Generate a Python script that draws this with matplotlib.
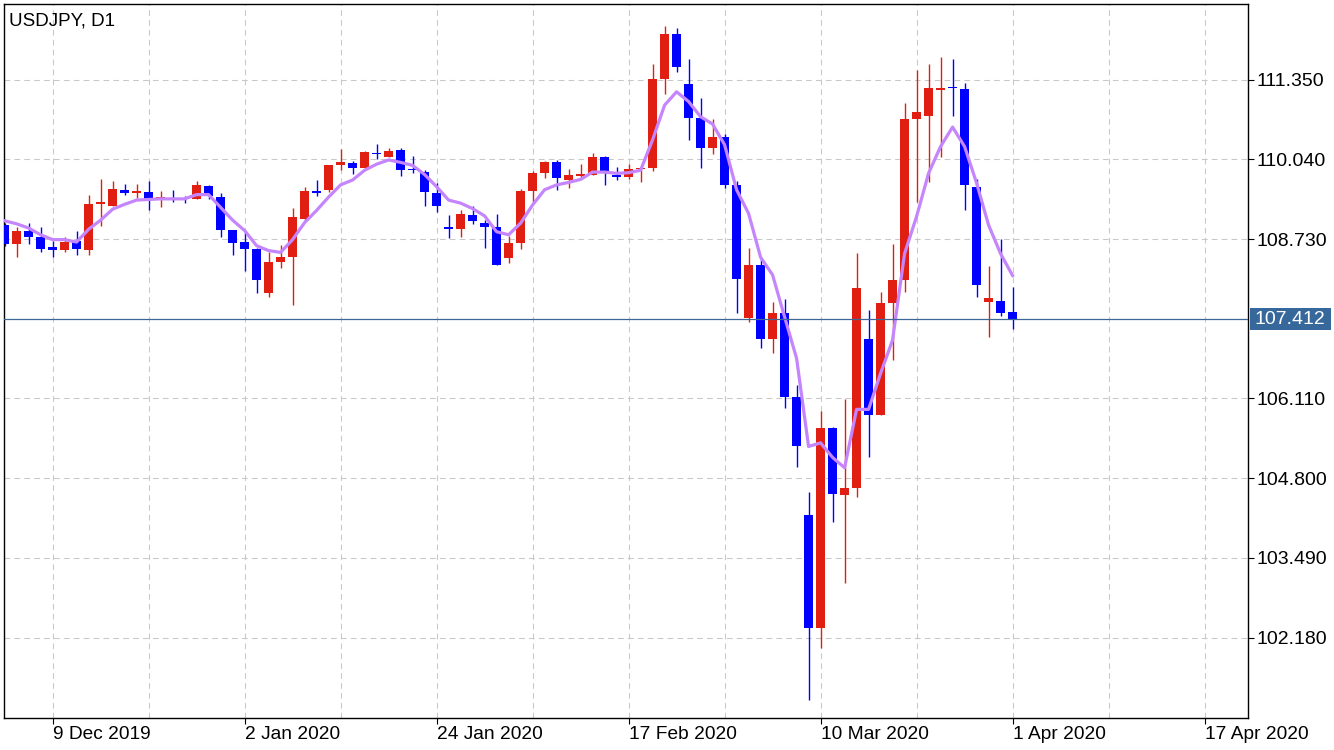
import numpy as np
import matplotlib.pyplot as plt
from matplotlib.patches import Rectangle

plt.rcParams['font.family'] = ['Liberation Sans', 'DejaVu Sans']

# barras diarias USDJPY, do indice -84 ate 0 (0 = 1 Apr 2020)
bar_idx = np.arange(-84, 1)

opens = [108.96, 108.64, 108.86, 108.76, 108.60, 108.55, 108.69, 108.55, 109.31, 109.28,
         109.54, 109.49, 109.50, 109.40, 109.41, 109.40, 109.39, 109.60, 109.42, 108.88,
         108.68, 108.57, 107.85, 108.36, 108.44, 109.06, 109.52, 109.54, 109.95, 109.98,
         109.90, 110.14, 110.08, 110.19, 109.87, 109.83, 109.49, 108.91, 108.90, 109.13,
         109.00, 108.92, 108.42, 108.67, 109.52, 109.82, 110.00, 109.70, 109.77, 109.78,
         110.08, 109.78, 109.75, 109.88, 109.89, 111.36, 112.10, 111.28, 110.72, 110.22,
         110.41, 109.61, 107.44, 108.30, 107.08, 107.51, 106.14, 104.19, 102.34, 105.62,
         104.53, 104.63, 107.08, 105.84, 107.68, 108.06, 110.70, 110.75, 111.18, 111.23,
         111.20, 109.58, 107.70, 107.71, 107.53]
highs = [108.99, 108.92, 108.99, 108.93, 108.69, 108.76, 108.86, 109.45, 109.71, 109.68,
         109.64, 109.64, 109.69, 109.52, 109.54, 109.44, 109.68, 109.61, 109.49, 108.88,
         108.85, 108.58, 108.51, 108.63, 109.24, 109.59, 109.70, 109.95, 110.21, 110.01,
         110.18, 110.29, 110.23, 110.23, 110.09, 109.86, 109.65, 109.13, 109.21, 109.27,
         109.05, 109.14, 108.78, 109.55, 109.85, 110.01, 110.03, 109.88, 109.96, 110.14,
         110.10, 109.91, 109.96, 109.91, 111.61, 112.23, 112.20, 111.69, 111.05, 110.70,
         110.46, 109.69, 108.58, 108.40, 107.69, 107.74, 106.33, 104.57, 105.90, 105.64,
         106.10, 108.50, 107.56, 107.86, 108.65, 110.97, 111.51, 111.61, 111.72, 111.69,
         111.29, 109.72, 108.29, 108.73, 107.94]
lows = [108.62, 108.44, 108.65, 108.52, 108.44, 108.52, 108.47, 108.46, 108.95, 109.27,
        109.46, 109.40, 109.20, 109.26, 109.34, 109.33, 109.38, 109.39, 108.77, 108.47,
        108.21, 107.85, 107.77, 108.26, 107.65, 109.02, 109.44, 109.50, 109.86, 109.80,
        109.90, 110.05, 110.08, 109.77, 109.82, 109.28, 109.17, 108.74, 108.76, 108.98,
        108.59, 108.30, 108.33, 108.56, 109.34, 109.74, 109.54, 109.57, 109.72, 109.78,
        109.62, 109.70, 109.72, 109.67, 109.85, 111.12, 111.48, 110.35, 109.90, 110.13,
        109.57, 107.52, 107.37, 106.94, 106.85, 105.96, 104.99, 101.16, 102.00, 104.08,
        103.08, 104.49, 105.14, 105.83, 106.74, 107.86, 109.34, 109.67, 110.08, 110.75,
        109.21, 107.77, 107.12, 107.46, 107.25]
closes = [108.64, 108.86, 108.76, 108.57, 108.55, 108.68, 108.57, 109.31, 109.34, 109.55,
          109.49, 109.52, 109.37, 109.42, 109.39, 109.38, 109.62, 109.44, 108.88, 108.67,
          108.57, 108.06, 108.35, 108.43, 109.09, 109.52, 109.48, 109.95, 110.00, 109.90,
          110.16, 110.12, 110.18, 109.87, 109.86, 109.51, 109.28, 108.90, 109.14, 109.02,
          108.93, 108.31, 108.66, 109.52, 109.82, 110.00, 109.74, 109.78, 109.80, 110.08,
          109.85, 109.75, 109.88, 109.90, 111.36, 112.10, 111.56, 110.72, 110.22, 110.41,
          109.61, 108.08, 108.30, 107.08, 107.51, 106.14, 105.33, 102.34, 105.62, 104.54,
          104.63, 107.92, 105.84, 107.68, 108.06, 110.70, 110.82, 111.21, 111.21, 111.21,
          109.61, 107.98, 107.76, 107.52, 107.412]
# media movel
ma_vals = [109.03, 108.98, 108.91, 108.80, 108.72, 108.72, 108.68, 108.89, 109.04, 109.22,
           109.30, 109.37, 109.38, 109.39, 109.39, 109.39, 109.46, 109.46, 109.25, 109.04,
           108.87, 108.62, 108.54, 108.51, 108.72, 109.00, 109.20, 109.42, 109.62, 109.70,
           109.86, 109.96, 110.03, 109.99, 109.94, 109.79, 109.59, 109.37, 109.32, 109.23,
           109.11, 108.85, 108.80, 108.99, 109.29, 109.54, 109.62, 109.66, 109.71, 109.83,
           109.83, 109.81, 109.82, 109.86, 110.36, 110.93, 111.15, 110.99, 110.74, 110.62,
           110.28, 109.54, 109.15, 108.43, 108.14, 107.45, 106.77, 105.32, 105.38, 105.14,
           104.97, 105.93, 105.93, 106.52, 107.07, 108.49, 109.10, 109.81, 110.25, 110.57,
           110.25, 109.65, 108.96, 108.49, 108.13]
bear_doji = [-47, -5]   # dojis desenhados em azul

# eixo das datas
tick_pos = [-80, -64, -48, -32, -16, 0, 16]
tick_labels = ['9 Dec 2019', '2 Jan 2020', '24 Jan 2020', '17 Feb 2020',
               '10 Mar 2020', '1 Apr 2020', '17 Apr 2020']
price_ticks = [102.18, 103.49, 104.80, 106.11, 108.73, 110.04, 111.35]

opens = np.array(opens)
closes = np.array(closes)
highs = np.array(highs)
lows = np.array(lows)

red = '#e01f12'
blue = '#0000ff'
colors = [blue if (c < o or i in bear_doji) else red
          for i, o, c in zip(bar_idx, opens, closes)]

fig = plt.figure(figsize=(13.34, 7.5), dpi=100)
ax = fig.add_axes([4/1334, 32/750, 1244/1334, 714/750])
ax.set_xlim(-84.05, 19.62)
ax.set_ylim(100.857, 112.593)

# grade tracejada
for v in range(-80, 20, 8):
    ax.axvline(v, color='#c8c8c8', lw=0.75, ls=(0, (5.5, 4)), zorder=0)
for p in price_ticks:
    ax.axhline(p, color='#c8c8c8', lw=0.75, ls=(0, (5.5, 4)), zorder=0)

# candles
ax.vlines(bar_idx, lows, highs, colors=colors, lw=1.0, zorder=2)
body_h = np.maximum(np.abs(closes - opens), 0.02)
body_b = np.minimum(opens, closes)
ax.bar(bar_idx, body_h, bottom=body_b, width=0.75, color=colors, linewidth=0, zorder=3)

# media movel
ax.plot(bar_idx, ma_vals, color='#c585fc', lw=2.3, zorder=4, solid_joinstyle='round')

# linha do preco atual + caixa no eixo
last = closes[-1]
ax.axhline(last, color='#3d6895', lw=0.9, zorder=5)
ytr = ax.get_yaxis_transform()
ax.add_patch(Rectangle((1.0016, last - 0.181), 0.0649, 0.362, transform=ytr,
                       facecolor='#36689b', edgecolor='none', clip_on=False, zorder=6))
ax.text(1.0340, last, '%.3f' % last, transform=ytr, ha='center', va='center',
        color='white', fontsize=14, zorder=7)

ax.text(0.004, 0.988, 'USDJPY, D1', transform=ax.transAxes, ha='left', va='top',
        fontsize=13.5, color='black')

ax.set_xticks(tick_pos)
ax.set_xticklabels(tick_labels, ha='left', fontsize=13.8)
ax.set_yticks(price_ticks)
ax.set_yticklabels(['%.3f' % p for p in price_ticks], fontsize=14)
ax.yaxis.tick_right()
ax.tick_params(axis='both', direction='out', length=4, width=0.8)
ax.tick_params(axis='y', pad=2)
ax.tick_params(axis='x', pad=2)

for s in ax.spines.values():
    s.set_color('black')
    s.set_linewidth(1.0)

fig.savefig('out.png', dpi=100)
